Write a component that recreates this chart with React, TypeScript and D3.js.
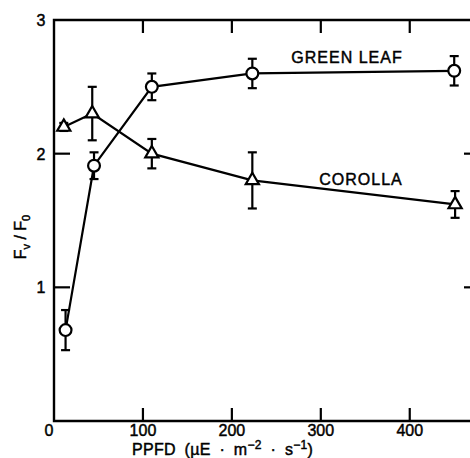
import { useEffect, useRef } from 'react';
import * as d3 from 'd3';

// PPFD levels (µE m-2 s-1)
const greenX = [13, 45, 110, 223, 450];
const greenY = [0.68, 1.91, 2.5, 2.6, 2.62];
const greenErr = [0.15, 0.1, 0.1, 0.11, 0.11];

const corollaX = [11, 43, 110, 223, 451];
const corollaY = [2.2, 2.3, 2.0, 1.8, 1.62];
const corollaErr = [0.03, 0.2, 0.11, 0.21, 0.1];

const xTicks = [0, 100, 200, 300, 400];
const yTicks = [1, 2, 3];

const FONT = '"Liberation Sans", Arial, sans-serif';

export default function App() {
  const ref = useRef<SVGSVGElement | null>(null);

  useEffect(() => {
    if (!ref.current) return;
    const svg = d3.select(ref.current);
    svg.selectAll('*').remove();

    const x = d3.scaleLinear().domain([0, 470]).range([54, 472]);
    const y = d3.scaleLinear().domain([0, 3]).range([421, 20]);

    const g = svg.append('g').attr('fill', 'none').attr('stroke', '#000');

    // frame
    g.append('path')
      .attr('d', `M${x(470)},${y(3)}H${x(0)}V${y(0)}H${x(470)}V${y(3)}`)
      .attr('stroke-width', 2.4);

    // ticks, pointing inward
    xTicks.filter(t => t > 0).forEach(t => {
      g.append('line').attr('x1', x(t)).attr('x2', x(t)).attr('y1', y(0)).attr('y2', y(0) - 13).attr('stroke-width', 2.2);
      g.append('line').attr('x1', x(t)).attr('x2', x(t)).attr('y1', y(3)).attr('y2', y(3) + 13).attr('stroke-width', 2.2);
    });
    yTicks.filter(t => t < 3).forEach(t => {
      g.append('line').attr('x1', x(0)).attr('x2', x(0) + 16).attr('y1', y(t)).attr('y2', y(t)).attr('stroke-width', 2.2);
      g.append('line').attr('x1', x(470)).attr('x2', x(470) - 8).attr('y1', y(t)).attr('y2', y(t)).attr('stroke-width', 2.2);
    });

    // lettering: regular weight with a thin outline to get the stencil look
    const txt = svg.append('g').attr('font-family', FONT).attr('fill', '#000')
      .attr('stroke', '#000').attr('stroke-width', 0.45);

    xTicks.forEach(t => {
      txt.append('text').attr('x', t === 0 ? x(t) - 5 : x(t)).attr('y', 436)
        .attr('text-anchor', 'middle').attr('font-size', 16).text(t);
    });
    yTicks.forEach(t => {
      txt.append('text').attr('x', 41).attr('y', y(t) + 6)
        .attr('text-anchor', 'middle').attr('font-size', 16).text(t);
    });

    // x title
    const xt = txt.append('text').attr('x', 132).attr('y', 455).attr('font-size', 16)
      .attr('word-spacing', 4).attr('letter-spacing', 0.3);
    xt.append('tspan').text('PPFD (µE · m');
    xt.append('tspan').attr('dy', -6).attr('font-size', 12).text('−2');
    xt.append('tspan').attr('dy', 6).text(' · s');
    xt.append('tspan').attr('dy', -6).attr('font-size', 12).text('−1');
    xt.append('tspan').attr('dy', 6).text(')');

    // y title
    const yt = txt.append('text').attr('transform', 'translate(26,237) rotate(-90)')
      .attr('text-anchor', 'middle').attr('font-size', 16);
    yt.append('tspan').text('F');
    yt.append('tspan').attr('dy', 4).attr('font-size', 11).text('v');
    yt.append('tspan').attr('dy', -4).text(' / F');
    yt.append('tspan').attr('dy', 4).attr('font-size', 11).text('0');

    // series labels
    txt.append('text').attr('x', 347).attr('y', 63).attr('text-anchor', 'middle')
      .attr('font-size', 16).attr('letter-spacing', 1).text('GREEN LEAF');
    txt.append('text').attr('x', 361).attr('y', 185).attr('text-anchor', 'middle')
      .attr('font-size', 16).attr('letter-spacing', 1).text('COROLLA');

    const line = d3.line<[number, number]>().x(d => x(d[0])).y(d => y(d[1]));

    const drawSeries = (xs: number[], ys: number[], es: number[], shape: 'circle' | 'triangle') => {
      const pts = xs.map((v, i) => [v, ys[i]] as [number, number]);
      const s = svg.append('g').attr('stroke', '#000').attr('stroke-width', 2.2);
      s.append('path').attr('d', line(pts)).attr('fill', 'none');
      pts.forEach((p, i) => {
        const cx = x(p[0]);
        const top = y(p[1] + es[i]);
        const bot = y(p[1] - es[i]);
        s.append('line').attr('x1', cx).attr('x2', cx).attr('y1', top).attr('y2', bot);
        s.append('line').attr('x1', cx - 4.5).attr('x2', cx + 4.5).attr('y1', top).attr('y2', top);
        s.append('line').attr('x1', cx - 4.5).attr('x2', cx + 4.5).attr('y1', bot).attr('y2', bot);
      });
      const sym = d3.symbol().type(shape === 'circle' ? d3.symbolCircle : d3.symbolTriangle)
        .size(shape === 'circle' ? 110 : 75);
      s.selectAll('.m').data(pts).enter().append('path')
        .attr('transform', d => `translate(${x(d[0])},${y(d[1])})`)
        .attr('d', sym()!)
        .attr('fill', '#fff');
    };

    drawSeries(greenX, greenY, greenErr, 'circle');
    drawSeries(corollaX, corollaY, corollaErr, 'triangle');
  }, []);

  return (
    <div style={{ position: 'absolute', left: 0, top: 0 }}>
      <svg ref={ref} width={470} height={458} style={{ display: 'block', background: '#fff' }} />
    </div>
  );
}
